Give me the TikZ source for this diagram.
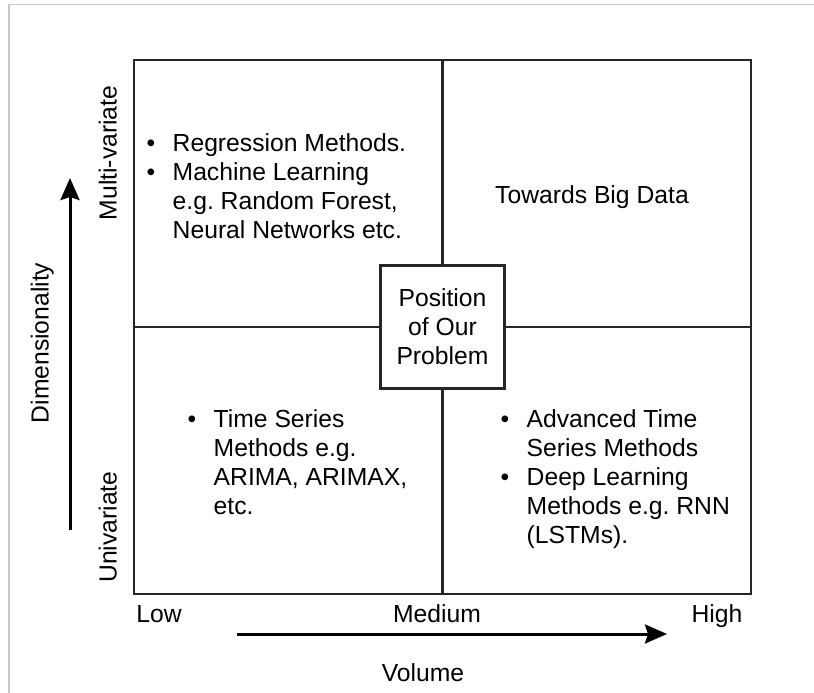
\documentclass[tikz,border=0pt]{standalone}
\usepackage{fontspec}
\setmainfont{Liberation Sans}
\usetikzlibrary{arrows.meta}
\frenchspacing

\tikzset{
	quad/.style={draw=black!85, line width=2.1pt},
	blist/.style={anchor=base west, inner sep=0pt},
	axlabel/.style={anchor=base, inner sep=0pt},
}
% bullet list with a hanging indent
\newcommand{\blt}{\textbullet}
\newenvironment{qlist}{\begin{tabular}[t]{@{}p{26pt}@{}l@{}}}{\end{tabular}}

\begin{document}
\begin{tikzpicture}[x=1pt, y=-1pt, every node/.style={font=\fontsize{24.7}{29}\selectfont}, >={Stealth[length=22pt, width=19pt, inset=3pt]}]
	\useasboundingbox (0,0) rectangle (814,693);
	\draw[black!22, line width=1.5pt] (9,693) -- (9,4.5) -- (814,4.5);

	% quadrants and the box in the middle
	\node[quad, minimum width=617pt, minimum height=534pt, inner sep=0pt] (grid) at (442.5,327) {};
	\node[quad, fill=white, minimum width=124pt, minimum height=123pt, inner sep=0pt, align=center] (pos) at (442.5,327) {Position\\of Our\\Problem};
	\draw[quad] (grid.north) -- (pos.north);
	\draw[quad] (grid.south) -- (pos.south);
	\draw[quad] (grid.west) -- (pos.west);
	\draw[quad] (grid.east) -- (pos.east);

	\node[blist] (ml) at (146.5,151.5) {\begin{qlist}
		\blt & Regression Methods.\\
		\blt & Machine Learning\\
		     & e.g. Random Forest,\\
		     & Neural Networks etc.
	\end{qlist}};
	\node[axlabel] (big) at (592,203.5) {Towards Big Data};
	\node[blist] (ts) at (187.5,427.5) {\begin{qlist}
		\blt & Time Series\\
		     & Methods e.g.\\
		     & ARIMA, ARIMAX,\\
		     & etc.
	\end{qlist}};
	\node[blist] (dl) at (500.5,427.5) {\begin{qlist}
		\blt & Advanced Time\\
		     & Series Methods\\
		\blt & Deep Learning\\
		     & Methods e.g. RNN\\
		     & (LSTMs).
	\end{qlist}};

	% volume axis
	\node[axlabel] (low) at (159,622.5) {Low};
	\node[axlabel] (med) at (437,622.5) {Medium};
	\node[axlabel] (high) at (717,622.5) {High};
	\node[axlabel] (vol) at (423,681.5) {Volume};
	\coordinate (hfrom) at (237,634);
	\coordinate (hto) at (667,634);
	\draw[->, line width=3pt] (hfrom) -- (hto);

	% dimensionality axis
	\node[axlabel, rotate=90] (multi) at (116.5,153) {Multi-variate};
	\node[axlabel, rotate=90] (dim) at (48.5,343) {Dimensionality};
	\node[axlabel, rotate=90] (uni) at (116.5,527) {Univariate};
	\coordinate (vfrom) at (70,530);
	\coordinate (vto) at (70,178);
	\draw[->, line width=3pt] (vfrom) -- (vto);
\end{tikzpicture}
\end{document}
